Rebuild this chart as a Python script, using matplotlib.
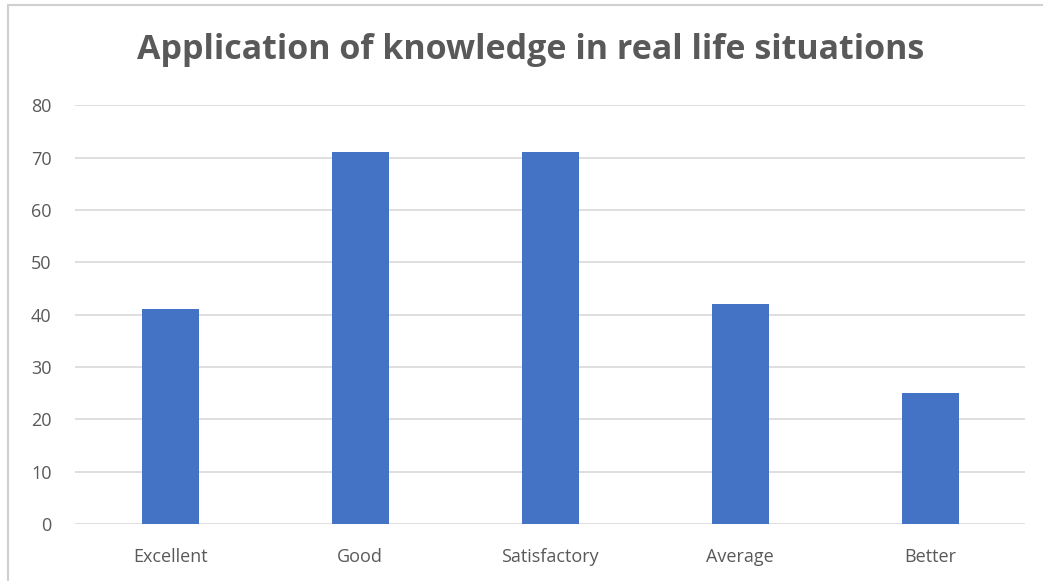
import matplotlib
matplotlib.use("Agg")
import matplotlib.pyplot as plt
from matplotlib.patches import Rectangle

categories = ["Excellent", "Good", "Satisfactory", "Average", "Better"]
values = [41, 71, 71, 42, 25]
y_ticks = [0, 10, 20, 30, 40, 50, 60, 70, 80]

BAR = "#4472C4"
TEXT = "#595959"
GRID = "#D9D9D9"

plt.rcParams["font.family"] = ["Open Sans", "DejaVu Sans"]

fig = plt.figure(figsize=(10.43, 5.81), dpi=100, facecolor="white")
ax = fig.add_axes([0.072, 0.098, 0.911, 0.721])

x = range(len(categories))
ax.bar(x, values, width=0.3, color=BAR, zorder=3)
ax.set_xlim(-0.5, len(categories) - 0.5)
ax.set_ylim(0, 80)
ax.set_yticks(y_ticks)
ax.set_xticks(list(x))
ax.set_xticklabels(categories)
ax.grid(axis="y", color=GRID, linewidth=1.2, zorder=0)
ax.tick_params(axis="both", length=0, labelcolor=TEXT, labelsize=13)
ax.tick_params(axis="y", pad=17)
ax.tick_params(axis="x", pad=17)
for s in ax.spines.values():
    s.set_visible(False)

fig.text(0.509, 0.914, "Application of knowledge in real life situations",
         ha="center", va="center", fontsize=24.5, fontweight="bold", color=TEXT)

# chart frame (only left and top edges fall inside the image)
fig.patches.append(Rectangle((0.008, -0.05), 1.05, 1.041, transform=fig.transFigure,
                             fill=False, edgecolor="#D0D0D0", linewidth=1.5))

fig.savefig("out.png", dpi=100, facecolor="white")
